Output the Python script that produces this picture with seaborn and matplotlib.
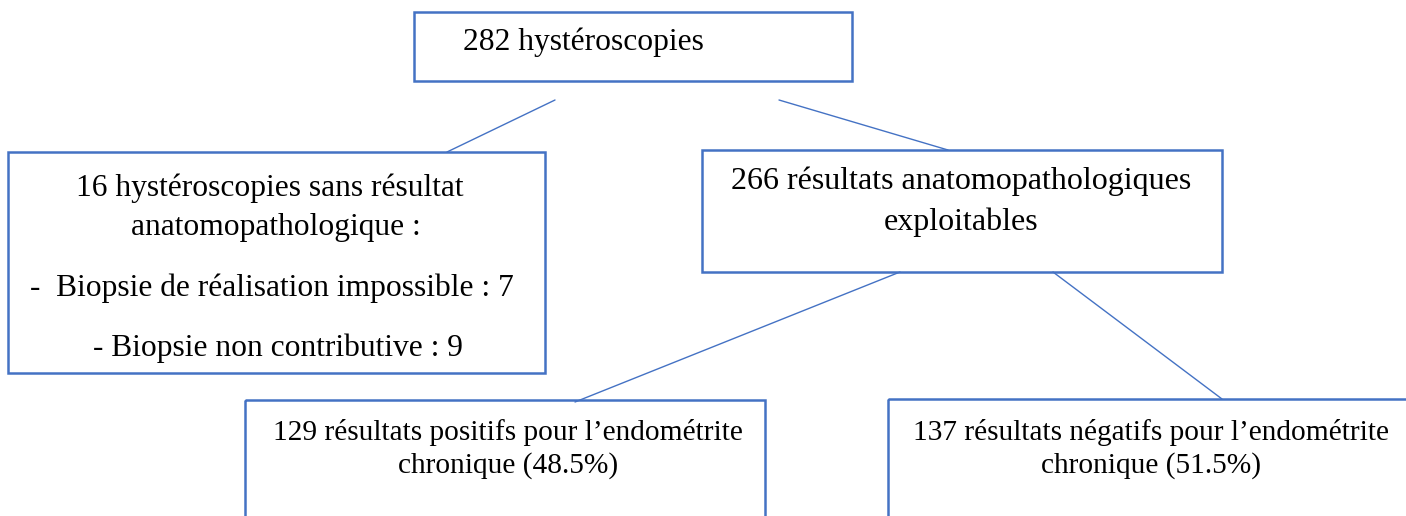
import numpy as np
import pandas as pd
import matplotlib
matplotlib.use("Agg")
import matplotlib.pyplot as plt
from matplotlib.patches import Rectangle
import seaborn as sns

# boxes: left, top, right, bottom (pixel coords of the page)
box_names = ["top", "excl", "ok", "pos", "neg"]
box_left = [414, 8, 702, 245, 888]
box_top = [12, 152, 150, 400, 399]
box_right = [852, 545, 1222, 765, 1412]
box_bottom = [81, 373, 272, 522, 522]

# text lines
line_text = [
    "282 hystéroscopies",
    "16 hystéroscopies sans résultat",
    "anatomopathologique :",
    "-  Biopsie de réalisation impossible : 7",
    "- Biopsie non contributive : 9",
    "266 résultats anatomopathologiques",
    "exploitables",
    "129 résultats positifs pour l\u2019endométrite",
    "chronique (48.5%)",
    "137 résultats négatifs pour l\u2019endométrite",
    "chronique (51.5%)",
]
line_x = [583, 270, 276, 272, 278, 961, 961, 508, 508, 1151, 1151]
line_y = [42, 188, 227, 288, 348, 181, 222, 432, 466, 432, 466]
line_size = [22.7, 22.7, 22.7, 22.7, 22.7, 23, 23, 21.2, 21.2, 21.2, 21.2]

# connectors
link_id = [0, 0, 1, 1, 2, 2, 3, 3]
link_x = [555, 447, 779, 948, 900, 575, 1053, 1222]
link_y = [100, 152, 100, 150, 272, 402, 272, 399]

blue = "#4472C4"

sns.set_theme(style="white")
plt.rcParams["font.family"] = ["Liberation Serif", "DejaVu Serif"]

fig = plt.figure(figsize=(14.06, 5.16), dpi=100)
ax = fig.add_axes([0, 0, 1, 1])

links = pd.DataFrame({"id": link_id, "x": link_x, "y": link_y})
sns.lineplot(data=links, x="x", y="y", units="id", estimator=None, sort=False,
             color=blue, linewidth=1.0, ax=ax)

for l, t, r, b in zip(box_left, box_top, box_right, box_bottom):
    ax.add_patch(Rectangle((l, t), r - l, b - t, fill=False, edgecolor=blue, linewidth=1.8))

for s, x, y, fs in zip(line_text, line_x, line_y, line_size):
    ax.text(x, y, s, ha="center", va="center", fontsize=fs, color="black")

ax.set_xlim(0, 1406)
ax.set_ylim(516, 0)
ax.axis("off")
fig.savefig("out.png", dpi=100, facecolor="white")
